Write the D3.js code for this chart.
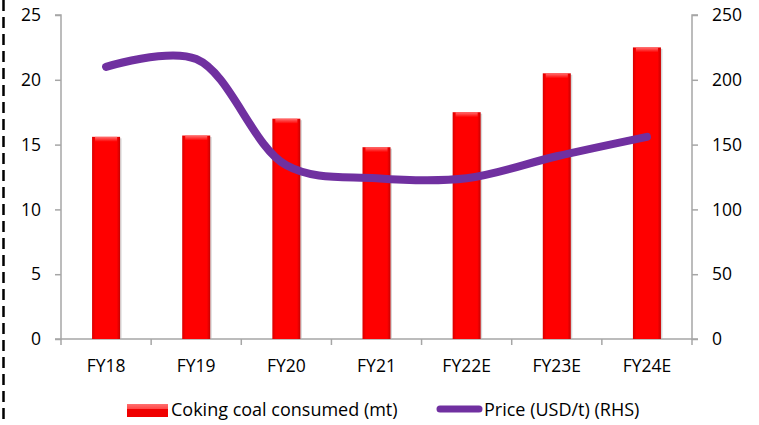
<!DOCTYPE html>
<html><head><meta charset="utf-8">
<script src="https://cdn.jsdelivr.net/npm/d3@7"></script>
<style>body{margin:0;background:#fff}svg{display:block}text{font-family:"Open Sans",Lato,sans-serif;fill:#000}</style>
</head><body><svg id="c" width="759" height="425"></svg>
<script>
const categories = ["FY18","FY19","FY20","FY21","FY22E","FY23E","FY24E"];
const consumed = [15.6, 15.7, 17.0, 14.8, 17.5, 20.5, 22.5];
const price = [210, 216, 134, 124, 124, 141, 156];
const leftTicks = [0,5,10,15,20,25];
const rightTicks = [0,50,100,150,200,250];

const svg = d3.select("#c");
const L = 61, R = 692, T = 15, B = 339;
const x = d3.scaleBand().domain(categories).range([L, R]).paddingInner(0).paddingOuter(0);
const yL = d3.scaleLinear().domain([0,25]).range([B, T]);
const yR = d3.scaleLinear().domain([0,250]).range([B, T]);
const FS = "17.5px";
const LFS = "18px";

const defs = svg.append("defs");
const g1 = defs.append("linearGradient").attr("id","barH").attr("x1",0).attr("x2",1).attr("y1",0).attr("y2",0);
g1.append("stop").attr("offset","0").attr("stop-color","#d80000");
g1.append("stop").attr("offset","0.12").attr("stop-color","#ff0000");
g1.append("stop").attr("offset","0.88").attr("stop-color","#ff0000");
g1.append("stop").attr("offset","1").attr("stop-color","#c80000");
const g2 = defs.append("linearGradient").attr("id","barTop").attr("x1",0).attr("x2",0).attr("y1",0).attr("y2",1);
g2.append("stop").attr("offset","0").attr("stop-color","#ff7070");
g2.append("stop").attr("offset","1").attr("stop-color","#ff0000");

svg.append("line").attr("x1",3.5).attr("x2",3.5).attr("y1",0).attr("y2",425)
  .attr("stroke","#000").attr("stroke-width",2.5).attr("stroke-dasharray","11,6");

const axisColor = "#a6a6a6";
const la = svg.append("g").attr("transform",`translate(${L},0)`)
  .call(d3.axisLeft(yL).tickValues(leftTicks).tickSize(6).tickPadding(14));
const ra = svg.append("g").attr("transform",`translate(${R},0)`)
  .call(d3.axisRight(yR).tickValues(rightTicks).tickSize(6).tickPadding(14));
[la, ra].forEach(a => {
  a.select(".domain").attr("stroke",axisColor).attr("stroke-width",1.5);
  a.selectAll(".tick line").attr("stroke",axisColor).attr("stroke-width",1.5);
  a.selectAll("text").style("font-size",FS).attr("fill","#000");
});
ra.select(".domain").attr("d",`M6,${T}H0V${B}H6`);
la.select(".domain").attr("d",`M-6,${T}H0V${B}H-6`);

svg.append("line").attr("x1",L).attr("x2",R).attr("y1",B).attr("y2",B).attr("stroke",axisColor).attr("stroke-width",1.5);
svg.selectAll(".xt").data(categories.concat(["end"])).enter().append("line")
  .attr("x1",(d,i)=> i<categories.length ? x(d) : R).attr("x2",(d,i)=> i<categories.length ? x(d) : R)
  .attr("y1",B).attr("y2",B+6).attr("stroke",axisColor).attr("stroke-width",1.5);
svg.selectAll(".xl").data(categories).enter().append("text")
  .attr("x",d=>x(d)+x.bandwidth()/2).attr("y",B+33).attr("text-anchor","middle")
  .style("font-size",FS).text(d=>d);

const bw = 28;
const bars = svg.selectAll(".bar").data(consumed).enter().append("g");
bars.append("rect")
  .attr("x",(d,i)=>x(categories[i])+x.bandwidth()/2-bw/2+1.5).attr("y",d=>yL(d)+1.5)
  .attr("width",bw).attr("height",d=>B-yL(d)-1.5).attr("fill","#b0b0b0").attr("opacity",0.5);
bars.append("rect")
  .attr("x",(d,i)=>x(categories[i])+x.bandwidth()/2-bw/2).attr("y",d=>yL(d))
  .attr("width",bw).attr("height",d=>B-yL(d)).attr("fill","url(#barH)");
bars.append("rect")
  .attr("x",(d,i)=>x(categories[i])+x.bandwidth()/2-bw/2+3).attr("y",d=>yL(d))
  .attr("width",bw-6).attr("height",5).attr("fill","url(#barTop)");

const line = d3.line().x((d,i)=>x(categories[i])+x.bandwidth()/2).y(d=>yR(d)).curve(d3.curveCatmullRom.alpha(0.5));
svg.append("path").datum(price).attr("d",line).attr("fill","none")
  .attr("stroke","#7030a0").attr("stroke-width",8).attr("stroke-linecap","round").attr("stroke-linejoin","round");

svg.append("rect").attr("x",127).attr("y",404).attr("width",41).attr("height",13).attr("fill","url(#barTop)");
svg.append("rect").attr("x",127).attr("y",409).attr("width",41).attr("height",8).attr("fill","#f00000");
svg.append("text").attr("x",171).attr("y",416).style("font-size",LFS).text("Coking coal consumed (mt)");
svg.append("line").attr("x1",440).attr("x2",479).attr("y1",409).attr("y2",409)
  .attr("stroke","#7030a0").attr("stroke-width",7).attr("stroke-linecap","round");
svg.append("text").attr("x",484).attr("y",416).style("font-size",LFS).text("Price (USD/t) (RHS)");
</script></body></html>
